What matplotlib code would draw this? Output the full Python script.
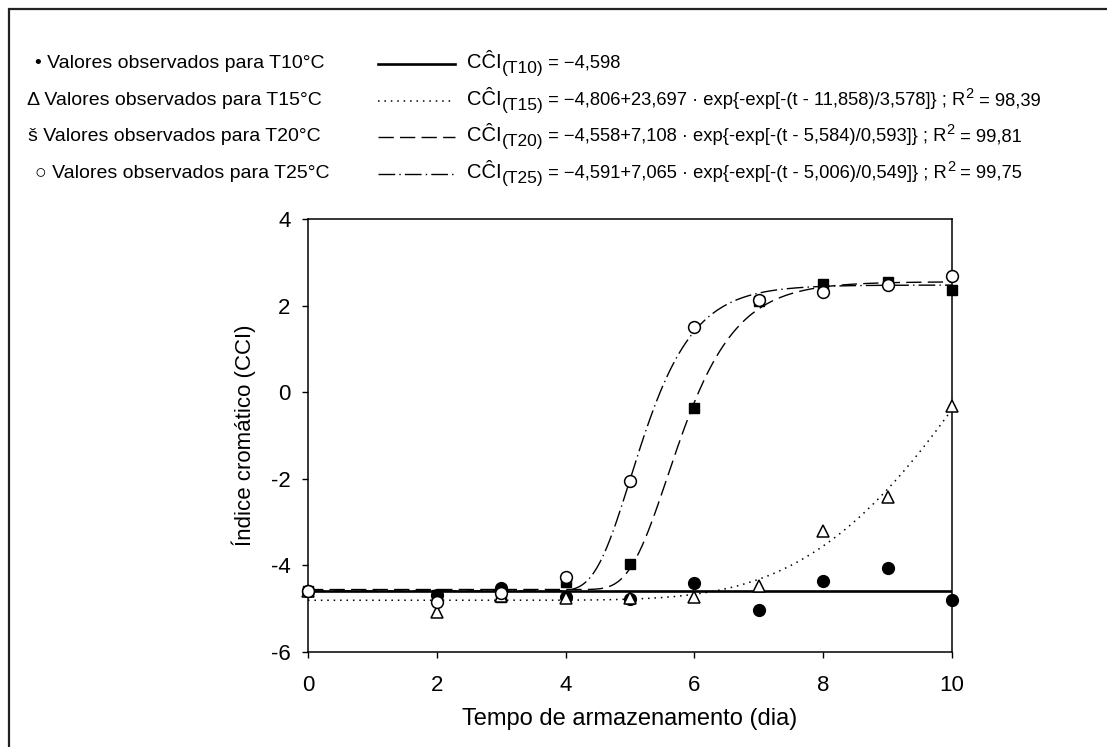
import numpy as np
import matplotlib
matplotlib.use("Agg")
import matplotlib.pyplot as plt
from matplotlib.patches import Rectangle
from matplotlib.transforms import offset_copy

plt.rcParams['font.family'] = ['Liberation Sans', 'DejaVu Sans']
plt.rcParams['axes.unicode_minus'] = False

# Observed chromatic index per storage day
dias = [0, 2, 3, 4, 5, 6, 7, 8, 9, 10]
cci_t10 = [-4.60, -4.68, -4.52, -4.74, -4.78, -4.41, -5.03, -4.36, -4.06, -4.80]
cci_t15 = [-4.60, -5.07, -4.70, -4.75, -4.76, -4.73, -4.48, -3.20, -2.42, -0.32]
cci_t20 = [-4.60, -4.68, -4.73, -4.38, -3.97, -0.37, 2.10, 2.50, 2.55, 2.36]
cci_t25 = [-4.60, -4.84, -4.63, -4.27, -2.05, 1.50, 2.13, 2.32, 2.47, 2.68]

# Fitted models: constant for T10, Gompertz a + b*exp(-exp(-(t-c)/d)) for the others
media_t10 = -4.598
gompertz_t15 = (-4.806, 23.697, 11.858, 3.578)
gompertz_t20 = (-4.558, 7.108, 5.584, 0.593)
gompertz_t25 = (-4.591, 7.065, 5.006, 0.549)

legenda_obs = ["\u2022 Valores observados para T10\u00b0C",
               "\u0394 Valores observados para T15\u00b0C",
               "\u0161 Valores observados para T20\u00b0C",
               "\u25cb Valores observados para T25\u00b0C"]
rotulos_temp = ["(T10)", "(T15)", "(T20)", "(T25)"]
equacoes = [" = \u22124,598",
            " = \u22124,806+23,697 \u00b7 exp{-exp[-(t - 11,858)/3,578]} ; R",
            " = \u22124,558+7,108 \u00b7 exp{-exp[-(t - 5,584)/0,593]} ; R",
            " = \u22124,591+7,065 \u00b7 exp{-exp[-(t - 5,006)/0,549]} ; R"]
r2 = [None, "98,39", "99,81", "99,75"]


def gompertz(t, p):
    a, b, c, d = p
    return a + b * np.exp(-np.exp(-(t - c) / d))


W, H = 1107, 747
fig = plt.figure(figsize=(W / 100, H / 100), dpi=100)
ax = fig.add_axes([308 / W, 1 - 652 / H, (952 - 308) / W, (652 - 219) / H])

t = np.linspace(0, 10, 400)
estilos = {
    't10': dict(color='black', lw=1.9, ls='-'),
    't15': dict(color='black', lw=1.1, ls=(0, (1, 3.2))),
    't20': dict(color='black', lw=1.0, ls=(0, (11, 4.5))),
    't25': dict(color='black', lw=1.0, ls=(0, (12, 3, 1, 3))),
}
ax.plot(t, np.full_like(t, media_t10), zorder=3, **estilos['t10'])
ax.plot(t, gompertz(t, gompertz_t15), zorder=3, **estilos['t15'])
ax.plot(t, gompertz(t, gompertz_t20), zorder=3, **estilos['t20'])
ax.plot(t, gompertz(t, gompertz_t25), zorder=3, **estilos['t25'])

ms = 8.5
ax.plot(dias, cci_t10, 'o', ms=ms, mfc='black', mec='black', mew=1, clip_on=False, zorder=4)
ax.plot(dias, cci_t20, 's', ms=ms - 1, mfc='black', mec='black', mew=1, clip_on=False, zorder=5)
ax.plot(dias, cci_t15, '^', ms=ms, mfc='white', mec='black', mew=1.1, clip_on=False, zorder=6)
ax.plot(dias, cci_t25, 'o', ms=ms, mfc='white', mec='black', mew=1.1, clip_on=False, zorder=7)

ax.set_xlim(0, 10)
ax.set_ylim(-6, 4)
ax.set_xticks([0, 2, 4, 6, 8, 10])
ax.set_yticks([-6, -4, -2, 0, 2, 4])
ax.tick_params(direction='out', length=4.5, width=1, labelsize=16, top=False, right=False)
ax.tick_params(axis='x', pad=12)
ax.tick_params(axis='y', pad=8)
for s in ax.spines.values():
    s.set_linewidth(1.1)
ax.set_xlabel("Tempo de armazenamento (dia)", fontsize=17, labelpad=9)
ax.set_ylabel("\u00cdndice crom\u00e1tico (CCI)", fontsize=16, labelpad=11)

# Legend block above the plot
ys = [62, 99, 135, 172]
xs_obs = [35, 27, 28, 35]
for y, x, txt in zip(ys, xs_obs, legenda_obs):
    fig.text(x / W, 1 - y / H, txt, fontsize=14, va='baseline', ha='left',
             transform=offset_copy(fig.transFigure, fig=fig, x=0, y=-6, units='dots'))

renderer = fig.canvas.get_renderer()


def texto_encadeado(x_px, y_px, partes):
    """Place text pieces one after another on a shared baseline (pixels from top-left)."""
    x = x_px
    for txt, size, dy in partes:
        tr = offset_copy(fig.transFigure, fig=fig, x=0, y=-dy, units='dots')
        art = fig.text(x / W, 1 - y_px / H, txt, fontsize=size, va='baseline',
                       ha='left', transform=tr)
        bb = art.get_window_extent(renderer)
        x += bb.width


amostras = ['t10', 't15', 't20', 't25']
for i, (y, key) in enumerate(zip(ys, amostras)):
    fig.add_artist(plt.Line2D([378 / W, 455 / W], [1 - (y + 2) / H, 1 - (y + 2) / H],
                              transform=fig.transFigure, **estilos[key]))
    partes = [("C\u0108I", 14.5, 0), (rotulos_temp[i], 12.5, 5), (equacoes[i], 13.2, 0)]
    if r2[i] is not None:
        partes += [("2", 10.5, -7), (" = " + r2[i], 13.2, 0)]
    texto_encadeado(467, y + 6, partes)

# Outer frame
fig.add_artist(Rectangle((8.5 / W, -0.1), 1.2, 1.1 - 9.5 / H, transform=fig.transFigure,
                         fill=False, lw=1.6, ec='#222222'))

fig.savefig("out.png", dpi=100)
